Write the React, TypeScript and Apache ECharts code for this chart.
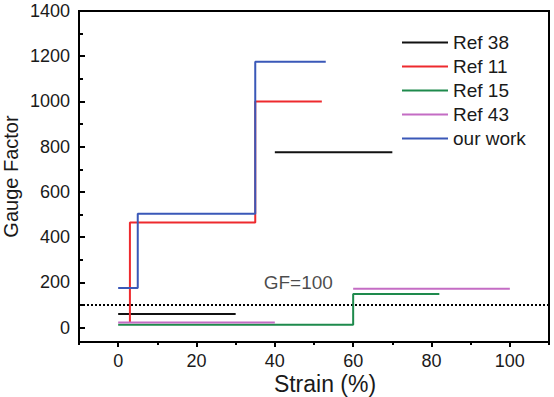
import React, { useEffect, useRef } from "react";
import * as echarts from "echarts";

// ---- Data ----
const seriesNames = ["Ref 38", "Ref 11", "Ref 15", "Ref 43", "our work"];
const seriesColors = ["#111111", "#ee2a2e", "#1e8a4c", "#c46cc4", "#3a58b8"];

const ref38SegA: [number, number][] = [[0, 60], [30, 60]];
const ref38SegB: [number, number][] = [[40, 775], [70, 775]];
const ref11: [number, number][] = [[3, 25], [3, 465], [35, 465], [35, 1000], [52, 1000]];
const ref15: [number, number][] = [[0, 12], [60, 12], [60, 148], [82, 148]];
const ref43SegA: [number, number][] = [[0, 22], [40, 22]];
const ref43SegB: [number, number][] = [[60, 172], [100, 172]];
const ourWork: [number, number][] = [[0, 175], [5, 175], [5, 503], [35, 503], [35, 1175], [53, 1175]];

const gfLine: [number, number][] = [[-10, 100], [110, 100]];
const gfLabelPoint: [number, number][] = [[46, 200]];
const gfLabelText = "GF=100";

const xMin = -10;
const xMax = 110;
const yMin = -64;
const yMax = 1400;
const xMajorTicks = [0, 20, 40, 60, 80, 100];
const xMinorTicks = [-10, 10, 30, 50, 70, 90, 110];
const yMajorTicks = [0, 200, 400, 600, 800, 1000, 1200, 1400];
const yMinorTicks = [100, 300, 500, 700, 900, 1100, 1300];

const xTitle = "Strain (%)";
const yTitle = "Gauge Factor";

const FONT = "'Liberation Sans', Arial, Helvetica, sans-serif";

export default function App() {
  const ref = useRef<HTMLDivElement>(null);

  useEffect(() => {
    if (!ref.current) return;
    const chart = echarts.init(ref.current, null, { renderer: "svg" });

    const gridRect = { left: 79, top: 11, right: 5, bottom: 55 };

    const lineSeries = (name: string, data: [number, number][], color: string) => ({
      type: "line",
      name,
      data,
      xAxisIndex: 0,
      yAxisIndex: 0,
      showSymbol: false,
      symbol: "none",
      lineStyle: { color, width: 2 },
      itemStyle: { color },
      emphasis: { disabled: true },
      silent: true,
      z: 3,
    });

    const plain = (v: number) => String(v);

    const option: any = {
      animation: false,
      backgroundColor: "#ffffff",
      textStyle: { fontFamily: FONT },
      grid: [
        { ...gridRect, containLabel: false, outerBoundsMode: "none", show: true, borderColor: "#000", borderWidth: 2, backgroundColor: "transparent" },
        { ...gridRect, containLabel: false, outerBoundsMode: "none", show: false },
      ],
      legend: {
        data: seriesNames,
        orient: "vertical",
        left: 397,
        top: 28,
        itemWidth: 46,
        itemHeight: 14,
        itemGap: 5,
        icon: "path://M0,6 L46,6 L46,8 L0,8 Z",
        textStyle: { fontSize: 19, color: "#1a1a1a", fontFamily: FONT },
        selectedMode: false,
      },
      xAxis: [
        {
          type: "value",
          gridIndex: 0,
          min: xMin,
          max: xMax,
          position: "bottom",
          name: xTitle,
          nameLocation: "middle",
          nameGap: 30,
          nameMoveOverlap: false,
          nameTextStyle: { fontSize: 23, lineHeight: 23, color: "#1a1a1a", fontFamily: FONT, padding: [0, 0, 0, 22] },
          axisLine: { show: true, onZero: false, lineStyle: { color: "#000", width: 2 } },
          axisTick: { show: true, inside: false, length: 5, customValues: xMajorTicks, lineStyle: { color: "#000", width: 2 } },
          axisLabel: { show: true, customValues: xMajorTicks, formatter: plain, fontSize: 18, color: "#1a1a1a", margin: 10, fontFamily: FONT },
          splitLine: { show: false },
        },
        {
          type: "value",
          gridIndex: 1,
          min: xMin,
          max: xMax,
          position: "bottom",
          axisLine: { show: false, onZero: false },
          axisTick: { show: true, inside: false, length: 3, customValues: xMinorTicks, lineStyle: { color: "#000", width: 2 } },
          axisLabel: { show: false },
          splitLine: { show: false },
        },
      ],
      yAxis: [
        {
          type: "value",
          gridIndex: 0,
          min: yMin,
          max: yMax,
          position: "left",
          name: yTitle,
          nameLocation: "middle",
          nameGap: 58,
          nameMoveOverlap: false,
          nameTextStyle: { fontSize: 20, lineHeight: 20, color: "#1a1a1a", fontFamily: FONT },
          axisLine: { show: true, onZero: false, lineStyle: { color: "#000", width: 2 } },
          axisTick: { show: true, inside: true, length: 6, customValues: yMajorTicks, lineStyle: { color: "#000", width: 2 } },
          axisLabel: { show: true, customValues: yMajorTicks, formatter: plain, fontSize: 18, color: "#1a1a1a", margin: 9, fontFamily: FONT },
          splitLine: { show: false },
        },
        {
          type: "value",
          gridIndex: 1,
          min: yMin,
          max: yMax,
          position: "left",
          axisLine: { show: false, onZero: false },
          axisTick: { show: true, inside: true, length: 4, customValues: yMinorTicks, lineStyle: { color: "#000", width: 2 } },
          axisLabel: { show: false },
          splitLine: { show: false },
        },
      ],
      series: [
        {
          type: "line",
          name: "GF",
          data: gfLine,
          xAxisIndex: 0,
          yAxisIndex: 0,
          showSymbol: false,
          symbol: "none",
          lineStyle: { color: "#000", width: 2, type: [2, 2] },
          silent: true,
          z: 2,
        },
        {
          type: "scatter",
          name: "GFlabel",
          data: gfLabelPoint,
          xAxisIndex: 0,
          yAxisIndex: 0,
          symbolSize: 1,
          itemStyle: { color: "transparent" },
          label: { show: true, position: "inside", formatter: gfLabelText, fontSize: 19, color: "#1a1a1a", fontFamily: FONT },
          silent: true,
        },
        lineSeries(seriesNames[0], ref38SegA, seriesColors[0]),
        lineSeries(seriesNames[0], ref38SegB, seriesColors[0]),
        lineSeries(seriesNames[1], ref11, seriesColors[1]),
        lineSeries(seriesNames[2], ref15, seriesColors[2]),
        lineSeries(seriesNames[3], ref43SegA, seriesColors[3]),
        lineSeries(seriesNames[3], ref43SegB, seriesColors[3]),
        lineSeries(seriesNames[4], ourWork, seriesColors[4]),
      ],
    };

    chart.setOption(option);
    return () => chart.dispose();
  }, []);

  return (
    <div
      ref={ref}
      style={{ position: "fixed", left: 0, top: 0, width: 554, height: 397, background: "#fff" }}
    />
  );
}
